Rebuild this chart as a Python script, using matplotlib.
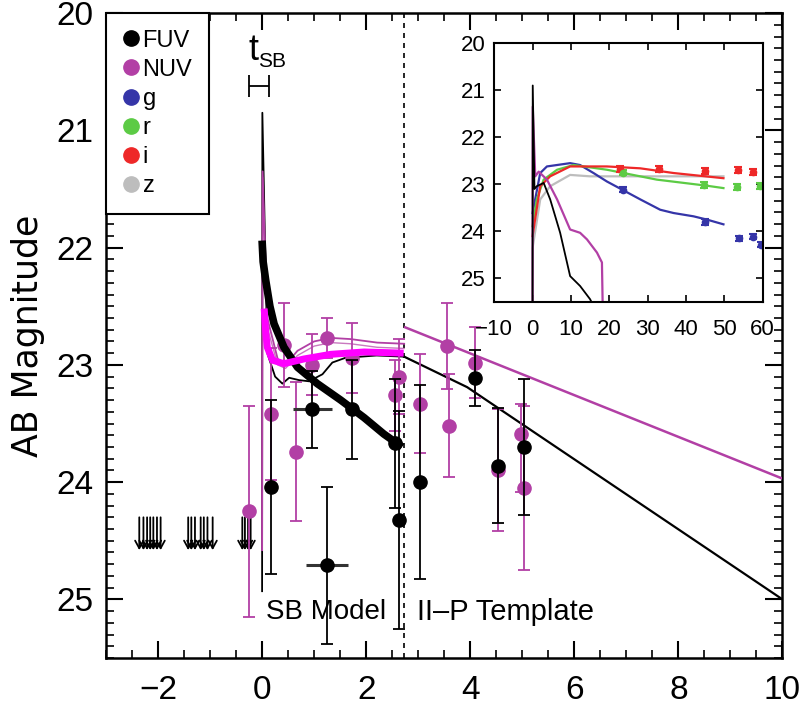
import matplotlib
matplotlib.use('Agg')
import matplotlib.pyplot as plt
from matplotlib.ticker import MultipleLocator
from matplotlib.lines import Line2D

NARROW = ['Liberation Sans Narrow', 'Liberation Sans', 'DejaVu Sans']
plt.rcParams['font.family'] = NARROW

# ---------------- data: main panel ----------------
fuv_t = [0.165, 0.965, 1.25, 1.73, 2.56, 2.63, 3.04, 4.09, 4.53, 5.04]
fuv_mag = [24.04, 23.38, 24.71, 23.38, 23.67, 24.32, 24.00, 23.11, 23.86, 23.70]
fuv_err = [0.74, 0.33, 0.67, 0.42, 0.55, 0.93, 0.83, 0.24, 0.49, 0.58]
fuv_terr = [0.0, 0.38, 0.40, 0.0, 0.0, 0.0, 0.0, 0.0, 0.0, 0.0]

nuv_t = [-0.25, 0.165, 0.42, 0.645, 0.965, 1.25, 1.73, 2.56, 2.64, 3.04, 3.56, 3.60, 4.09, 4.53, 4.98, 5.04]
nuv_mag = [24.25, 23.42, 22.83, 23.74, 23.00, 22.77, 22.94, 23.26, 23.10, 23.33, 22.84, 23.52, 22.98, 23.90, 23.59, 24.05]
nuv_err_lo = [0.90, 0.56, 0.36, 0.59, 0.26, 0.17, 0.30, 0.30, 0.32, 0.42, 0.37, 0.44, 0.30, 0.52, 0.26, 0.70]
nuv_err_hi = [0.90, 0.56, 0.36, 0.59, 0.26, 0.17, 0.30, 0.30, 0.32, 0.42, 0.37, 0.44, 0.30, 0.52, 0.49, 0.70]

ul_t = [-2.36, -2.28, -2.21, -2.15, -2.09, -2.02, -1.95,
        -1.42, -1.36, -1.29, -1.18, -1.12, -1.05, -0.95,
        -0.38, -0.33, -0.27, -0.22]
ul_mag = [24.3, 24.3, 24.3, 24.3, 24.3, 24.3, 24.3,
          24.3, 24.3, 24.3, 24.3, 24.3, 24.3, 24.3,
          24.3, 24.3, 24.3, 24.3]
ul_len = 0.28

# thin model curves
fuv_model_t = [0, 0.005, 0.1, 0.25, 0.39, 0.52, 0.71, 0.9, 1.16, 1.35, 1.6, 2.2, 2.73]
fuv_model_m = [24.93, 20.85, 22.9, 23.1, 23.16, 23.11, 23.13, 23.14, 23.08, 22.98, 22.94, 22.92, 22.93]
nuv_model_t = [0, 0.01, 0.1, 0.3, 0.45, 0.68, 1.0, 1.32, 1.7, 2.21, 2.73]
nuv_model_m1 = [24.58, 21.35, 22.6, 22.95, 23.0, 22.88, 22.8, 22.77, 22.78, 22.81, 22.82]
nuv_model_m2 = [24.58, 21.4, 22.68, 23.0, 23.03, 22.92, 22.84, 22.81, 22.82, 22.85, 22.86]

# thick SB model
sb_fuv_t = [0.0, 0.02, 0.07, 0.15, 0.23, 0.42, 0.68, 1.06, 1.51, 1.96, 2.34, 2.69]
sb_fuv_m = [21.94, 22.12, 22.28, 22.5, 22.65, 22.85, 23.02, 23.16, 23.30, 23.45, 23.59, 23.70]
sb_nuv_t = [0.04, 0.07, 0.1, 0.2, 0.42, 0.8, 1.32, 1.96, 2.72]
sb_nuv_m = [22.52, 22.72, 22.85, 22.96, 22.99, 22.95, 22.91, 22.89, 22.90]

# II-P template
tmpl_fuv_t = [2.73, 3.94, 10.0]
tmpl_fuv_m = [22.93, 23.19, 25.0]
tmpl_nuv_t = [2.75, 10.0]
tmpl_nuv_m = [22.68, 23.97]

sb_end = 2.73
tsb_center, tsb_half, tsb_mag = -0.065, 0.195, 20.62

# ---------------- data: inset ----------------
ins_fuv_t = [0, 0.05, 0.5, 1.1, 2.9, 4.6, 7.2, 9.8, 12.4, 15.0, 16.0]
ins_fuv_m = [25.5, 20.9, 23.1, 23.04, 22.97, 23.32, 24.03, 24.95, 25.16, 25.44, 25.6]
ins_nuv_t = [0, 0.05, 0.7, 1.6, 3.75, 6.4, 9.8, 12.4, 14.2, 16.8, 18.1, 18.3]
ins_nuv_m = [25.5, 21.35, 22.83, 22.73, 22.9, 23.32, 23.96, 24.03, 24.17, 24.45, 24.66, 25.6]
ins_g_t = [0, 2.0, 3.75, 9.8, 12.4, 15.9, 19.4, 23.3, 28.1, 33.3, 36.8, 42, 45.5, 49.8]
ins_g_m = [23.61, 22.76, 22.62, 22.55, 22.59, 22.76, 22.94, 23.11, 23.32, 23.54, 23.61, 23.68, 23.75, 23.85]
ins_r_t = [0, 1.1, 2.9, 6.4, 10.7, 19.4, 32.4, 45.5, 49.8]
ins_r_m = [23.89, 23.32, 22.9, 22.69, 22.59, 22.69, 22.9, 23.03, 23.08]
ins_i_t = [0, 2.0, 4.6, 9.8, 19.4, 28.1, 36.8, 49.8]
ins_i_m = [24.1, 23.04, 22.83, 22.62, 22.62, 22.66, 22.76, 22.87]
ins_z_t = [0, 0.01, 2.0, 4.6, 9.8, 15, 28.1, 49.8]
ins_z_m = [25.5, 24.35, 23.32, 23.04, 22.8, 22.83, 22.83, 22.83]

ins_i_pt = [22.9, 32.9, 44.9, 53.6, 57.6]
ins_i_pm = [22.68, 22.68, 22.71, 22.69, 22.74]
ins_r_pt = [23.6, 44.6, 53.3, 59.4]
ins_r_pm = [22.75, 23.01, 23.06, 23.04]
ins_g_pt = [23.6, 44.9, 53.9, 57.6, 59.6]
ins_g_pm = [23.11, 23.80, 24.15, 24.11, 24.28]
ins_perr = 0.06

legend_labels = ['FUV', 'NUV', 'g', 'r', 'i', 'z']

C_FUV = 'black'
C_NUV = '#B23FA5'
C_NUV_THICK = '#FF00FF'
C_G = '#3535A8'
C_R = '#5CCB45'
C_I = '#EE2828'
C_Z = '#BDBDBD'
legend_colors = [C_FUV, C_NUV, C_G, C_R, C_I, C_Z]

# ---------------- figure ----------------
fig = plt.figure(figsize=(8.01, 7.19), dpi=100)
ax = fig.add_axes([0.1323, 0.0848, 0.8446, 0.897])

# thin model lines
ax.plot(fuv_model_t, fuv_model_m, color=C_FUV, lw=1.3, zorder=3)
ax.plot(nuv_model_t, nuv_model_m1, color=C_NUV, lw=1.3, zorder=3)
ax.plot(nuv_model_t, nuv_model_m2, color=C_NUV, lw=1.0, alpha=0.7, zorder=3)

# templates
ax.plot(tmpl_fuv_t, tmpl_fuv_m, color=C_FUV, lw=1.6, zorder=3)
ax.plot(tmpl_nuv_t, tmpl_nuv_m, color=C_NUV, lw=1.8, zorder=3)

# data with error bars
ax.errorbar(nuv_t, nuv_mag, yerr=[nuv_err_lo, nuv_err_hi], fmt='o', color=C_NUV,
            ms=9.5, elinewidth=1.3, capsize=4, capthick=1.3, zorder=4)
ax.errorbar(fuv_t, fuv_mag, yerr=fuv_err, fmt='o', color=C_FUV,
            ms=9.5, elinewidth=1.3, capsize=4, capthick=1.3, zorder=5)
ax.errorbar(fuv_t, fuv_mag, xerr=fuv_terr, fmt='none', ecolor='#333333',
            elinewidth=2.2, capsize=0, zorder=5)

# thick SB model curves
ax.plot(sb_fuv_t, sb_fuv_m, color='black', lw=5.5, solid_capstyle='butt', zorder=6)
ax.plot(sb_nuv_t, sb_nuv_m, color=C_NUV_THICK, lw=5, solid_capstyle='butt', zorder=6)

# upper limits
for t, m in zip(ul_t, ul_mag):
    ax.annotate('', xy=(t, m + ul_len), xytext=(t, m),
                arrowprops=dict(arrowstyle='->,head_length=0.55,head_width=0.3',
                                color='black', lw=1.3, shrinkA=0, shrinkB=0))

# divider and t_SB marker
ax.axvline(sb_end, color='black', lw=1.2, ls=(0, (3, 3)), zorder=2)
ax.errorbar([tsb_center], [tsb_mag], xerr=[tsb_half], fmt='none', ecolor='black',
            elinewidth=1.3, capsize=8, capthick=1.3)
ax.text(-0.27, 20.40, 't', fontsize=26, ha='left', va='baseline')
ax.text(-0.08, 20.46, 'SB', fontsize=15, ha='left', va='baseline')

ax.text(0.07, 25.11, 'SB Model', fontsize=20, ha='left', va='center')
ax.text(2.98, 25.11, 'II\u2013P Template', fontsize=21, ha='left', va='center')

ax.set_xlim(-3, 10)
ax.set_ylim(25.5, 20.0)
ax.xaxis.set_major_locator(MultipleLocator(2))
ax.xaxis.set_minor_locator(MultipleLocator(0.5))
ax.yaxis.set_major_locator(MultipleLocator(1))
ax.yaxis.set_minor_locator(MultipleLocator(0.1))
ax.tick_params(which='both', direction='in', top=True, right=True)
ax.tick_params(which='major', length=12, width=1.5)
ax.tick_params(which='minor', length=6, width=1.2)
ax.tick_params(axis='y', which='major', labelsize=24, pad=9)
ax.tick_params(axis='x', which='major', labelsize=24, pad=12)
for s in ax.spines.values():
    s.set_linewidth(1.8)

ax.set_ylabel('AB Magnitude', fontsize=25, family=['DejaVu Sans'])
ax.yaxis.set_label_coords(-0.09, 0.5)

handles = [Line2D([], [], ls='none', marker='o', ms=11, color=c) for c in legend_colors]
leg = ax.legend(handles, legend_labels, loc='upper left', bbox_to_anchor=(0, 1),
                borderaxespad=0, fontsize=17, handlelength=0.7, handletextpad=0.15,
                labelspacing=0.3, borderpad=0.7, fancybox=False, framealpha=1,
                edgecolor='black')
leg.get_frame().set_linewidth(1.5)
leg.set_zorder(10)

# ---------------- inset ----------------
ins = fig.add_axes([0.617, 0.580, 0.335, 0.360])
lw_in = 1.6
ins.plot(ins_z_t, ins_z_m, color=C_Z, lw=lw_in)
ins.plot(ins_g_t, ins_g_m, color=C_G, lw=lw_in)
ins.plot(ins_r_t, ins_r_m, color=C_R, lw=lw_in)
ins.plot(ins_i_t, ins_i_m, color=C_I, lw=lw_in)
ins.plot(ins_nuv_t, ins_nuv_m, color=C_NUV, lw=lw_in)
ins.plot(ins_fuv_t, ins_fuv_m, color=C_FUV, lw=1.3)
for pt, pm, c in [(ins_i_pt, ins_i_pm, C_I), (ins_r_pt, ins_r_pm, C_R), (ins_g_pt, ins_g_pm, C_G)]:
    ins.errorbar(pt, pm, yerr=ins_perr, fmt='o', color=c, ms=4.5,
                 elinewidth=1.5, capsize=3, capthick=1.5)
ins.set_xlim(-10, 60)
ins.set_ylim(25.5, 20.0)
ins.xaxis.set_major_locator(MultipleLocator(10))
ins.yaxis.set_major_locator(MultipleLocator(1))
ins.tick_params(which='both', direction='in', top=True, right=True, length=5, width=1.2,
                labelsize=16, pad=6)
ins.tick_params(axis='x', pad=12)
for s in ins.spines.values():
    s.set_linewidth(1.5)

fig.savefig('out.png', dpi=100)
